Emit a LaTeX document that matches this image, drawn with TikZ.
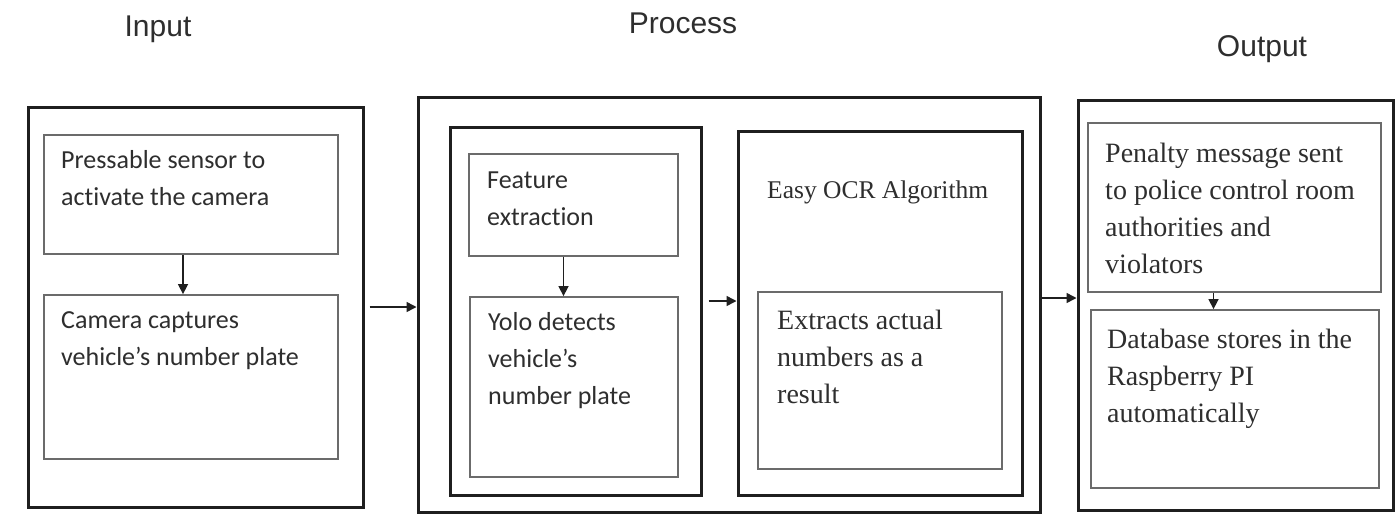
\documentclass[tikz,border=0pt]{standalone}
\usepackage{fontspec}
\setmainfont{Liberation Serif}
\newfontfamily\calib[Ligatures=NoCommon]{Carlito}
\newfontfamily\heads{Liberation Sans}
\usetikzlibrary{arrows.meta}
\definecolor{lineblack}{gray}{0.12}
\definecolor{linegray}{gray}{0.42}
\definecolor{txt}{gray}{0.18}
\tikzset{
  outerbox/.style={draw=lineblack, line width=3pt, inner sep=0pt},
  innerbox/.style={draw=linegray, line width=1.8pt, inner sep=0pt},
  arr/.style={draw=lineblack, line width=1.5pt, -{Triangle[length=10pt,width=10pt]}},
  sanstxt/.style={font=\calib\fontsize{26}{37}\selectfont, text=txt, align=left, inner sep=0pt, anchor=north west},
  seriftxt/.style={font=\fontsize{28}{37}\selectfont, text=txt, align=left, inner sep=0pt, anchor=north west},
  titletxt/.style={font=\heads\fontsize{30}{36}\selectfont, text=txt, inner sep=0pt, anchor=base},
}
\begin{document}
\begin{tikzpicture}[x=1pt,y=-1pt]
\useasboundingbox[fill=white] (0,0) rectangle (1399,514);
% titles
\node[titletxt] (tin) at (158,36) {Input};
\node[titletxt] (tpr) at (683,33) {Process};
\node[titletxt] (tou) at (1262,56) {Output};
% input
\node[outerbox, minimum width=335pt, minimum height=400pt] (inp) at (195.5,307) {};
\node[innerbox, minimum width=294pt, minimum height=119pt] (s1) at (191,194.5) {};
\node[innerbox, minimum width=294pt, minimum height=164pt] (s2) at (191,377) {};
\node[sanstxt] (t1) at (61,142.1) {\strut Pressable sensor to\\activate the camera};
\node[sanstxt] (t2) at (61,302.1) {\strut Camera captures\\vehicle’s number plate};
% process
\node[outerbox, minimum width=622pt, minimum height=415pt] (proc) at (729,304.5) {};
\node[outerbox, minimum width=251pt, minimum height=368pt] (cont) at (575.5,311) {};
\node[innerbox, minimum width=209pt, minimum height=102pt] (fe) at (573.5,205) {};
\node[innerbox, minimum width=208pt, minimum height=180pt] (yolo) at (574,387) {};
\node[sanstxt] (t3) at (487,162.1) {\strut Feature\\extraction};
\node[sanstxt] (t4) at (488,304.1) {\strut Yolo detects\\vehicle’s\\number plate};
\node[outerbox, minimum width=284pt, minimum height=364pt] (ocr) at (880,313) {};
\node[font=\fontsize{25.5}{30}\selectfont, text=txt, inner sep=0pt, anchor=base west] (t5) at (767,198) {Easy OCR Algorithm};
\node[innerbox, minimum width=244pt, minimum height=177pt] (xr) at (880,380.5) {};
\node[seriftxt] (t6) at (777,303) {\strut Extracts actual\\numbers as a\\result};
% output
\node[outerbox, minimum width=315pt, minimum height=410pt] (out) at (1235.5,305) {};
\node[innerbox, minimum width=293pt, minimum height=169pt] (pen) at (1234.5,207.5) {};
\node[innerbox, minimum width=288pt, minimum height=178pt] (db) at (1235,399) {};
\node[seriftxt] (t7) at (1105,136.5) {\strut Penalty message sent\\to police control room\\authorities and\\violators};
\node[seriftxt] (t8) at (1107,322.5) {\strut Database stores in the\\Raspberry PI\\automatically};
% connectors
\draw[arr] ([xshift=-8pt]s1.south) -- ([xshift=-8pt]s1.south |- s2.north);
\draw[arr, shorten <=5pt] (inp.east) -- (inp.east -| proc.west);
\draw[arr] ([xshift=-10pt]fe.south) -- ([xshift=-10pt]fe.south |- yolo.north);
\draw[arr, shorten <=6pt] ([yshift=10pt]cont.east) -- ([yshift=10pt]cont.east -| ocr.west);
\draw[arr] ([yshift=6.5pt]proc.east) -- ([yshift=6.5pt]proc.east -| out.west);
\draw[arr] ([xshift=-21pt]pen.south) -- ([xshift=-21pt]pen.south |- db.north);
\end{tikzpicture}
\end{document}
